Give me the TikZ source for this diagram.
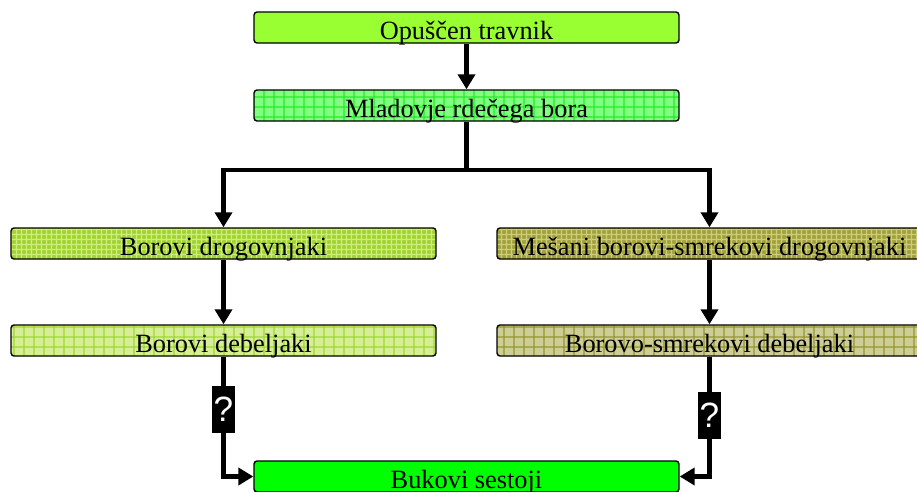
\documentclass[tikz,border=0pt]{standalone}
\usepackage{fontspec}
\setmainfont{Liberation Serif}
\newfontfamily\qfont{Liberation Sans}
\usetikzlibrary{arrows.meta,patterns.meta}

\definecolor{travnik}{RGB}{153,255,51}
\definecolor{mladovje}{RGB}{128,255,128}
\definecolor{mladovjeline}{RGB}{40,232,40}
\definecolor{borovi}{RGB}{160,210,50}
\definecolor{boroviline}{RGB}{205,238,120}
\definecolor{debeli}{RGB}{214,238,150}
\definecolor{debeliline}{RGB}{160,215,50}
\definecolor{mesani}{RGB}{160,160,60}
\definecolor{mesaniline}{RGB}{205,205,120}
\definecolor{smreka}{RGB}{205,205,150}
\definecolor{smrekaline}{RGB}{150,150,50}
\definecolor{bukev}{RGB}{0,255,0}

\tikzdeclarepattern{
  name=widegrid,
  type=uncolored,
  bounding box={(0cm,0cm) and (0.2cm,0.2cm)},
  tile size={(0.2cm,0.2cm)},
  code={\draw[line width=0.6pt] (0cm,0.1cm) -- (0.2cm,0.1cm) (0.1cm,0cm) -- (0.1cm,0.2cm);}
}
\tikzdeclarepattern{
  name=finegrid,
  type=uncolored,
  bounding box={(0cm,0cm) and (0.1cm,0.1cm)},
  tile size={(0.1cm,0.1cm)},
  code={\draw[line width=0.6pt] (0cm,0.05cm) -- (0.1cm,0.05cm) (0.05cm,0cm) -- (0.05cm,0.1cm);}
}

\tikzset{
  box/.style={draw=black, line width=0.8pt, rounded corners=0.06cm,
    minimum width=8.5cm, minimum height=0.62cm, inner ysep=0pt,
    text height=0.54cm, text depth=0.08cm, font=\fontsize{15}{15}\selectfont},
  gridbox/.style n args={3}{box, preaction={fill=#1}, pattern=#2, pattern color=#3},
  arr/.style={line width=2.3pt, -{Triangle[width=0.34cm,length=0.3cm]}},
  qmark/.style={fill=black, text=white, inner sep=0pt, minimum width=0.46cm,
    minimum height=0.94cm, font=\qfont\fontsize{20}{20}\selectfont}
}

\begin{document}
\begin{tikzpicture}[x=0.02cm, y=-0.02cm]
\useasboundingbox (0,0) rectangle (917,491);
% stolpec na sredini
\node[box, fill=travnik] (trav) at (466.5,27.5) {Opuščen travnik};
\node[gridbox={mladovje}{widegrid}{mladovjeline}] (mlad) at (466.5,105.5) {Mladovje rdečega bora};
% levo
\node[gridbox={borovi}{finegrid}{boroviline}] (drogL) at (223.5,243.5) {Borovi drogovnjaki};
\node[gridbox={debeli}{widegrid}{debeliline}] (debL) at (223.5,340.5) {Borovi debeljaki};
% desno
\node[gridbox={mesani}{finegrid}{mesaniline}] (drogR) at (709.5,243.5) {Mešani borovi-smrekovi drogovnjaki};
\node[gridbox={smreka}{widegrid}{smrekaline}] (debR) at (709.5,340.5) {Borovo-smrekovi debeljaki};
% spodaj
\node[box, fill=bukev] (buk) at (466.5,476.5) {Bukovi sestoji};

\coordinate (split) at (466.5,170);
\draw[arr] (trav) -- (mlad);
\draw[line width=2.3pt] (mlad.south) -- (split);
\draw[arr] (split) -| (drogL.north);
\draw[arr] (split) -| (drogR.north);
\draw[arr] (drogL) -- (debL);
\draw[arr] (drogR) -- (debR);
\draw[arr] (debL.south) |- node[qmark, pos=0.22] {?} (buk.west);
\draw[arr] (debR.south) |- node[qmark, pos=0.245] {?} (buk.east);
\end{tikzpicture}
\end{document}
